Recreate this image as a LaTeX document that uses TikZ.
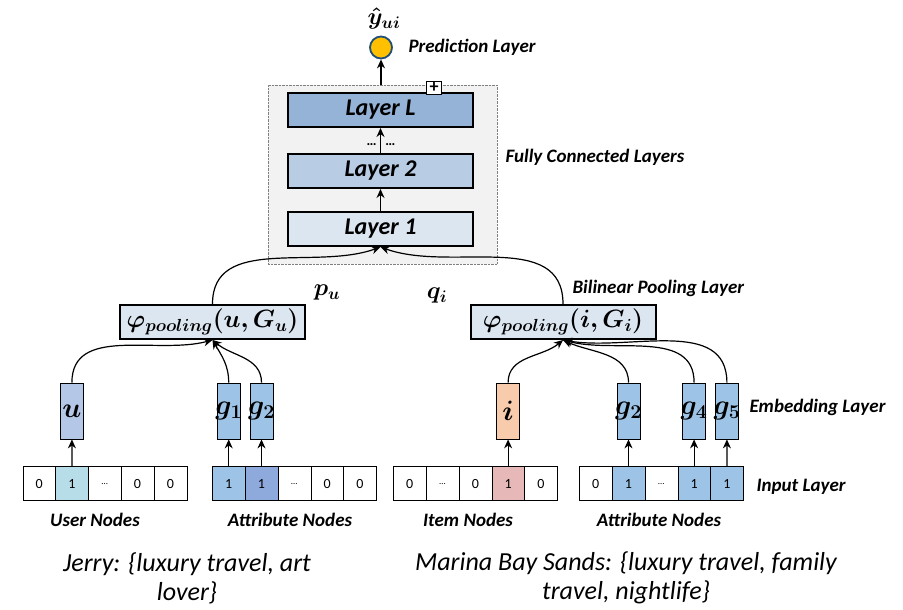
\RequirePackage{fix-cm}
\documentclass[tikz,border=0pt]{standalone}
\usepackage{amsmath,bm}
\usepackage[no-math]{fontspec}
\setmainfont{Carlito}
\usetikzlibrary{arrows.meta}

\definecolor{framegray}{HTML}{F2F2F2}
\definecolor{deepfill}{HTML}{95B3D7}
\definecolor{midfill}{HTML}{B8CCE4}
\definecolor{paleblue}{HTML}{DCE6F1}
\definecolor{userblue}{HTML}{B4C7E7}
\definecolor{attrblue}{HTML}{9DC3E6}
\definecolor{attrdark}{HTML}{8EA9DB}
\definecolor{userteal}{HTML}{B7DEE8}
\definecolor{itempeach}{HTML}{F8CBAD}
\definecolor{itempink}{HTML}{E6B9B8}
\definecolor{gold}{HTML}{FFC000}
\definecolor{navy}{HTML}{1F4E79}

\newcommand\gapdots{{\fontsize{9}{9}\selectfont\dots}}

\begin{document}
\begin{tikzpicture}[x=1pt,y=1pt,
 cell/.style={draw,minimum width=32.8pt,minimum height=34pt,inner sep=0pt,
              font=\fontsize{14}{16}\selectfont},
 emb/.style={draw,line width=.8pt,minimum width=23pt,minimum height=56pt,inner sep=0pt,
             font=\fontsize{28}{30}\selectfont},
 layer/.style={draw,line width=2pt,minimum width=185pt,minimum height=34pt,
               font=\fontsize{24}{26}\selectfont\bfseries\itshape},
 pool/.style={draw,line width=2pt,fill=paleblue,minimum width=185pt,minimum height=34pt,
              inner sep=0pt,font=\fontsize{25}{27}\selectfont},
 vec/.style={font=\fontsize{24}{26}\selectfont},
 tag/.style={anchor=west,font=\fontsize{19}{21}\selectfont\bfseries\itshape},
 caption/.style={font=\fontsize{19}{21}\selectfont\bfseries\itshape},
 note/.style={align=center,font=\fontsize{26}{29}\selectfont\itshape},
 link/.style={-{Stealth[length=9pt,width=8pt]},line width=1.2pt}]
 \useasboundingbox (0,0) rectangle (903,610);

 % prediction on top
 \node[circle,draw=navy,line width=1.8pt,fill=gold,minimum size=22pt,inner sep=0pt] (pred) at (381,562.5) {};
 \node[vec] (yhat) at (384,591) {$\bm{\hat{y}_{ui}}$};
 \node[tag] (predtag) at (405,563) {Prediction Layer};

 % fully connected block
 \node[draw=gray,densely dotted,fill=framegray,minimum width=229pt,minimum height=179pt,inner sep=0pt] (fc) at (382.5,435.5) {};
 \node[layer,fill=deepfill] (LL) at (380.5,500) {Layer L};
 \node[layer,fill=midfill] (L2) at (380.5,439) {Layer 2};
 \node[layer,fill=paleblue] (L1) at (380.5,381) {Layer 1};
 \node[draw,line width=.8pt,fill=white,minimum width=15pt,minimum height=13pt,inner sep=0pt,
       font=\fontsize{18}{18}\selectfont\bfseries] (plus) at (434,522) {+};
 \node[font=\fontsize{14}{14}\selectfont\bfseries] (dots) at (381,465) {\dots\hspace{9pt}\dots};
 \node[tag] (fctag) at (502,453) {Fully Connected Layers};
 \draw[link] (L1) -- (L2);
 \draw[link] (L2) -- (LL);
 \draw[link] (pred |- fc.north) -- (pred);

 % bilinear pooling
 \node[pool] (poolu) at (212.5,288) {$\bm{\varphi_{pooling}(u,G_u)}$};
 \node[pool] (pooli) at (563,288) {$\bm{\varphi_{pooling}(i,G_i)}$};
 \node[vec] (pu) at (327,317) {$\bm{p_u}$};
 \node[vec] (qi) at (437,314) {$\bm{q_i}$};
 \node[tag] (pooltag) at (569,322) {Bilinear Pooling Layer};
 \draw[link] (poolu.north) to[out=90,in=200] (L1.south);
 \draw[link] (pooli.north) to[out=90,in=-20] (L1.south);

 % one-hot inputs
 \foreach \c/\v/\f in {1/0/white,2/1/userteal,3/\gapdots/white,4/0/white,5/0/white}
   \node[cell,fill=\f] (U\c) at ({6.3+32.8*\c},126.3) {\v};
 \foreach \c/\v/\f in {1/1/attrblue,2/1/attrdark,3/\gapdots/white,4/0/white,5/0/white}
   \node[cell,fill=\f] (A\c) at ({195.9+32.8*\c},126.3) {\v};
 \foreach \c/\v/\f in {1/0/white,2/\gapdots/white,3/0/white,4/1/itempink,5/0/white}
   \node[cell,fill=\f] (I\c) at ({376.9+32.8*\c},126.3) {\v};
 \foreach \c/\v/\f in {1/0/white,2/1/attrblue,3/\gapdots/white,4/1/attrblue,5/1/attrblue}
   \node[cell,fill=\f] (B\c) at ({562.9+32.8*\c},126.3) {\v};
 \node[tag] (inputtag) at (753,123) {Input Layer};

 % embeddings
 \node[emb,fill=userblue] (eu) at (71.9,199) {$\bm{u}$};
 \foreach \k/\x in {1/228.7,2/261.5}
   \node[emb,fill=attrblue] (ga\k) at (\x,199) {\makebox[0pt]{$\bm{g_{\k}}$}};
 \node[emb,fill=itempeach] (ei) at (508.1,199) {$\bm{i}$};
 \foreach \k/\x in {2/628.5,4/694.1,5/726.9}
   \node[emb,fill=attrblue] (gb\k) at (\x,199) {\makebox[0pt]{$\bm{g_{\k}}$}};
 \node[tag] (embtag) at (746,203) {Embedding Layer};

 \draw[link] (U2) -- (eu);
 \foreach \k in {1,2} \draw[link] (A\k) -- (ga\k);
 \draw[link] (I4) -- (ei);
 \foreach \k in {2,4,5} \draw[link] (B\k) -- (gb\k);

 \draw[link] (eu.north) to[out=90,in=195] (poolu.south);
 \draw[link] (ga1.north) to[out=90,in=-60] (poolu.south);
 \draw[link] (ga2.north) to[out=90,in=-40] (poolu.south);
 \draw[link] (ei.north) to[out=90,in=220] (pooli.south);
 \draw[link] (gb2.north) to[out=90,in=-25] (pooli.south);
 \draw[link] (gb4.north) to[out=90,in=-15] (pooli.south);
 \draw[link] (gb5.north) to[out=90,in=-10] (pooli.south);

 % captions
 \node[caption] (usercap) at (95,90) {User Nodes};
 \node[caption] (attrcapu) at (290,90) {Attribute Nodes};
 \node[caption] (itemcap) at (468,90) {Item Nodes};
 \node[caption] (attrcapi) at (659,90) {Attribute Nodes};
 \node[note] (jerry) at (187,32) {Jerry: \{luxury travel, art\\lover\}};
 \node[note] (marina) at (626,32) {Marina Bay Sands: \{luxury travel, family\\travel, nightlife\}};
\end{tikzpicture}
\end{document}
